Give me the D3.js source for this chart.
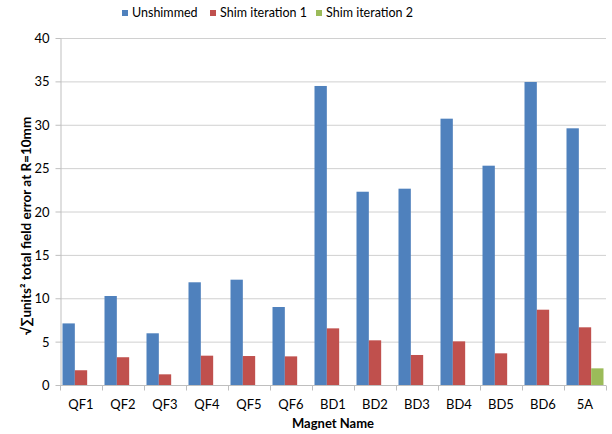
<!DOCTYPE html>
<html>
<head>
<meta charset="utf-8">
<script src="https://cdn.jsdelivr.net/npm/d3@7"></script>
<style>
  body { margin: 0; background: #fff; }
  text { font-family: Lato, "Open Sans", sans-serif; fill: #000; }
  .axis path, .axis line { stroke: #bfbfbf; }
  .grid line { stroke: #d0d0d0; }
</style>
</head>
<body>
<div id="chart"></div>
<script>
const magnets = ['QF1', 'QF2', 'QF3', 'QF4', 'QF5', 'QF6', 'BD1', 'BD2', 'BD3', 'BD4', 'BD5', 'BD6', '5A'];
const seriesNames = ['Unshimmed', 'Shim iteration 1', 'Shim iteration 2'];
const unshimmed = [7.1, 10.26, 5.96, 11.84, 12.14, 8.99, 34.47, 22.28, 22.63, 30.7, 25.28, 34.93, 29.59];
const shim1 = [1.7, 3.2, 1.23, 3.38, 3.34, 3.3, 6.53, 5.15, 3.46, 5.03, 3.65, 8.68, 6.65];
const shim2 = [null, null, null, null, null, null, null, null, null, null, null, null, 1.92];
const colors = ['#4f81bd', '#c0504d', '#9bbb59'];
const yTicks = [0, 5, 10, 15, 20, 25, 30, 35, 40];

const width = 612, height = 434;
const margin = { top: 38, left: 60, right: 6, bottom: 49 };
const innerW = width - margin.left - margin.right;
const innerH = height - margin.top - margin.bottom;

const svg = d3.select('#chart').append('svg')
  .attr('width', width)
  .attr('height', height);

const chart = svg.append('g')
  .attr('transform', `translate(${margin.left},${margin.top})`);

// scales
const x = d3.scaleBand().domain(magnets).range([0, innerW]).padding(0);
const xSub = d3.scaleBand().domain(seriesNames).range([2.5, x.bandwidth() - 2.5]).padding(0);
const y = d3.scaleLinear().domain([0, 40]).range([innerH, 0]);

// gridlines
chart.append('g').attr('class', 'grid')
  .selectAll('line')
  .data(yTicks.slice(1))
  .join('line')
  .attr('x1', 0).attr('x2', innerW)
  .attr('y1', d => y(d) + 0.5).attr('y2', d => y(d) + 0.5);

// bars
const table = magnets.map((m, i) => ({ name: m, values: [unshimmed[i], shim1[i], shim2[i]] }));
const groups = chart.selectAll('.group')
  .data(table)
  .join('g')
  .attr('class', 'group')
  .attr('transform', d => `translate(${x(d.name)},0)`);

groups.selectAll('rect')
  .data(d => d.values.map((v, k) => ({ key: seriesNames[k], k, v })).filter(e => e.v != null))
  .join('rect')
  .attr('x', d => xSub(d.key))
  .attr('width', xSub.bandwidth())
  .attr('y', d => y(d.v))
  .attr('height', d => innerH - y(d.v))
  .attr('fill', d => colors[d.k]);

// y axis
const yAxis = d3.axisLeft(y).tickValues(yTicks).tickSize(5).tickSizeOuter(0).tickPadding(6);
const yAxisG = chart.append('g').attr('class', 'axis y-axis')
  .attr('transform', 'translate(0.5,0)')
  .call(yAxis);
yAxisG.selectAll('text').style('font-size', '13px').attr('dy', '0.35em');

// x axis
const xAxisG = chart.append('g').attr('class', 'axis x-axis')
  .attr('transform', `translate(0,${innerH + 0.5})`);
xAxisG.append('line').attr('x1', 0).attr('x2', innerW);
xAxisG.selectAll('.tick-mark')
  .data(d3.range(magnets.length + 1))
  .join('line')
  .attr('class', 'tick-mark')
  .attr('x1', i => Math.round(i * x.step()) + 0.5)
  .attr('x2', i => Math.round(i * x.step()) + 0.5)
  .attr('y1', 0).attr('y2', 5);
xAxisG.selectAll('.label')
  .data(magnets)
  .join('text')
  .attr('class', 'label')
  .attr('x', d => x(d) + x.bandwidth() / 2)
  .attr('y', 23)
  .attr('text-anchor', 'middle')
  .style('font-size', '13px')
  .text(d => d);

// axis titles
svg.append('text')
  .attr('x', margin.left + innerW / 2)
  .attr('y', 428)
  .attr('text-anchor', 'middle')
  .style('font-size', '13px')
  .style('font-weight', 'bold')
  .text('Magnet Name');

svg.append('text')
  .attr('transform', 'translate(31,226) rotate(-90)')
  .attr('text-anchor', 'middle')
  .style('font-size', '13.5px')
  .style('font-weight', 'bold')
  .text('√∑units² total field error at R=10mm');

// legend
const legendX = [122, 210, 316];
const legend = svg.append('g').selectAll('g')
  .data(seriesNames)
  .join('g')
  .attr('transform', (d, i) => `translate(${legendX[i]},10)`);
legend.append('rect')
  .attr('width', 6).attr('height', 6)
  .attr('fill', (d, i) => colors[i]);
legend.append('text')
  .attr('x', 10).attr('y', 3)
  .attr('dy', '0.35em')
  .style('font-size', '12.5px')
  .text(d => d);
</script>
</body>
</html>
